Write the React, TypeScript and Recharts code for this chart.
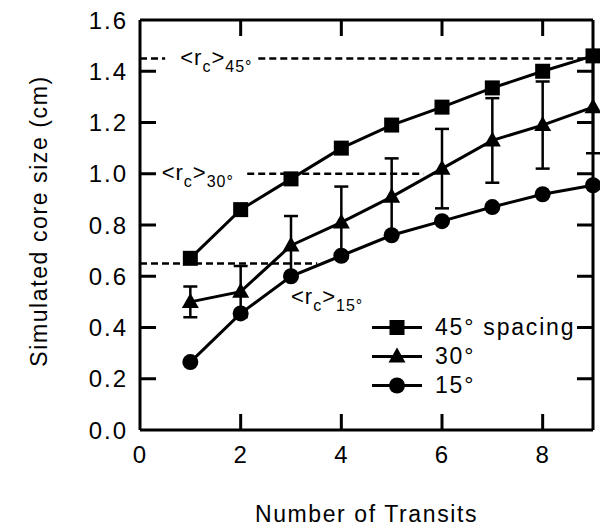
import {
  ErrorBar,
  Legend,
  Line,
  LineChart,
  ReferenceDot,
  ReferenceLine,
  XAxis,
  YAxis,
} from "recharts";

const transits = [1, 2, 3, 4, 5, 6, 7, 8, 9];
const spacing45 = [0.67, 0.86, 0.98, 1.1, 1.19, 1.26, 1.335, 1.4, 1.46];
const spacing30 = [0.5, 0.54, 0.72, 0.81, 0.91, 1.02, 1.13, 1.19, 1.26];
const error30 = [0.06, 0.1, 0.115, 0.14, 0.15, 0.155, 0.165, 0.17, 0.18];
const spacing15 = [0.265, 0.455, 0.6, 0.68, 0.76, 0.815, 0.87, 0.92, 0.955];

const X_MAX = 9;
const Y_MAX = 1.6;
const xTicks = [0, 2, 4, 6, 8];
const yTicks = [0, 0.2, 0.4, 0.6, 0.8, 1.0, 1.2, 1.4, 1.6];
// inward tick marks on all four sides of the frame
const xMarks = [2, 4, 6, 8];
const yMarks = [0.2, 0.4, 0.6, 0.8, 1.0, 1.2, 1.4];

// mean core size <rc> for each spacing
const meanSubs = ["45°", "30°", "15°"];
const meanValues = [1.45, 1.0, 0.65];
// dashed pieces (x ranges) and where the label text starts
const meanSegments = [
  [[0, 0.5], [2.35, 9]],
  [[2.13, 5.63]],
  [[0, 3.52]],
];
const meanLabelAt = [
  { x: 0.8, y: 1.424 },
  { x: 0.43, y: 0.976 },
  { x: 3.0, y: 0.492 },
];

const seriesList = [
  { key: "s45", name: "45° spacing", shape: "square" },
  { key: "s30", name: "30°", shape: "triangle" },
  { key: "s15", name: "15°", shape: "circle" },
];

const data = transits.map((t, i) => ({
  transit: t,
  s45: spacing45[i],
  s30: spacing30[i],
  err30: error30[i],
  s15: spacing15[i],
}));

const W = 600;
const H = 531;
const PLOT = { left: 140, top: 20, right: 593, bottom: 430 };
const TICK_LEN = 16;
const FONT = "'Liberation Sans', Arial, Helvetica, sans-serif";

const sx = (v: number) => PLOT.left + (v / X_MAX) * (PLOT.right - PLOT.left);
const sy = (v: number) => PLOT.bottom - (v / Y_MAX) * (PLOT.bottom - PLOT.top);

function Marker({ shape, cx, cy }: { shape: string; cx: number; cy: number }) {
  if (shape === "square")
    return <rect x={cx - 7.5} y={cy - 7.5} width={15} height={15} fill="#000" />;
  if (shape === "triangle")
    return (
      <polygon
        points={`${cx},${cy - 9} ${cx - 8.5},${cy + 6} ${cx + 8.5},${cy + 6}`}
        fill="#000"
      />
    );
  return <circle cx={cx} cy={cy} r={8} fill="#000" />;
}

function MeanLabel({ cx, cy, sub }: { cx: number; cy: number; sub: string }) {
  return (
    <text x={cx} y={cy} fontSize={22} fontFamily={FONT} letterSpacing={1} fill="#000">
      {"<r"}
      <tspan dy={7} fontSize={16}>c</tspan>
      <tspan dy={-7}>{">"}</tspan>
      <tspan dy={7} fontSize={16}>{sub}</tspan>
    </text>
  );
}

function BottomTick({ x, y, payload }: any) {
  return (
    <text x={x} y={y + 33} textAnchor="middle" fontSize={24} letterSpacing={1}
      fontFamily={FONT} fill="#000">
      {payload.value}
    </text>
  );
}

function LeftTick({ x, y, payload }: any) {
  return (
    <text x={x - 12} y={y} dy="0.36em" textAnchor="end" fontSize={24} letterSpacing={2}
      fontFamily={FONT} fill="#000">
      {payload.value.toFixed(1)}
    </text>
  );
}

// inward tick marks of the frame, laid over the chart
function FrameTicks() {
  return (
    <svg width={W} height={H} style={{ position: "absolute", left: 0, top: 0, pointerEvents: "none" }}>
      <g stroke="#000" strokeWidth={3}>
        {yMarks.map((v) => (
          <g key={`y${v}`}>
            <line x1={PLOT.left} x2={PLOT.left + TICK_LEN} y1={sy(v)} y2={sy(v)} />
            <line x1={PLOT.right - TICK_LEN} x2={PLOT.right} y1={sy(v)} y2={sy(v)} />
          </g>
        ))}
        {xMarks.map((v) => (
          <g key={`x${v}`}>
            <line x1={sx(v)} x2={sx(v)} y1={PLOT.bottom} y2={PLOT.bottom - TICK_LEN} />
            <line x1={sx(v)} x2={sx(v)} y1={PLOT.top} y2={PLOT.top + TICK_LEN} />
          </g>
        ))}
      </g>
    </svg>
  );
}

function LegendBox() {
  return (
    <div style={{ fontFamily: FONT }}>
      {seriesList.map((s) => (
        <div key={s.key} style={{ display: "flex", alignItems: "center", height: 29 }}>
          <svg width={52} height={29}>
            <line x1={0} x2={50} y1={14.5} y2={14.5} stroke="#000" strokeWidth={3} />
            <Marker shape={s.shape} cx={25} cy={14.5} />
          </svg>
          <span style={{ marginLeft: 11, fontSize: 23, letterSpacing: 1.8, lineHeight: "29px" }}>
            {s.name}
          </span>
        </div>
      ))}
    </div>
  );
}

const axisLine = { stroke: "#000", strokeWidth: 3 };

export default function App() {
  return (
    <div style={{ position: "absolute", left: 0, top: 0, width: W, height: H, background: "#fff" }}>
      <LineChart
        width={W}
        height={H}
        data={data}
        margin={{ top: PLOT.top - 1, right: W - PLOT.right - 1, bottom: 0, left: 0 }}
      >
        <XAxis
          dataKey="transit"
          type="number"
          domain={[0, X_MAX]}
          ticks={xTicks}
          height={H - PLOT.bottom}
          axisLine={axisLine}
          tickLine={false}
          tickSize={0}
          tickMargin={0}
          tick={BottomTick}
          label={({ viewBox }: any) => (
            <text
              x={viewBox.x + viewBox.width / 2}
              y={522}
              textAnchor="middle"
              fontSize={23}
              letterSpacing={1.6}
              fontFamily={FONT}
              fill="#000"
            >
              Number of Transits
            </text>
          )}
        />
        <XAxis
          xAxisId="top"
          orientation="top"
          type="number"
          domain={[0, X_MAX]}
          allowDataOverflow
          height={1}
          axisLine={axisLine}
          tickLine={false}
          tick={false}
        />
        <YAxis
          type="number"
          domain={[0, Y_MAX]}
          ticks={yTicks}
          width={PLOT.left}
          axisLine={axisLine}
          tickLine={false}
          tickSize={0}
          tickMargin={0}
          tick={LeftTick}
          label={({ viewBox }: any) => {
            const cy = viewBox.y + viewBox.height / 2 - 4;
            return (
              <text
                x={47}
                y={cy}
                transform={`rotate(-90, 47, ${cy})`}
                textAnchor="middle"
                fontSize={23}
                letterSpacing={1.6}
                fontFamily={FONT}
                fill="#000"
              >
                Simulated core size (cm)
              </text>
            );
          }}
        />
        <YAxis
          yAxisId="right"
          orientation="right"
          type="number"
          domain={[0, Y_MAX]}
          allowDataOverflow
          width={1}
          axisLine={axisLine}
          tickLine={false}
          tick={false}
        />

        {meanValues.map((v, i) =>
          meanSegments[i].map((seg, j) => (
            <ReferenceLine
              key={`m${i}-${j}`}
              segment={[
                { x: seg[0], y: v },
                { x: seg[1], y: v },
              ]}
              stroke="#000"
              strokeWidth={2.5}
              strokeDasharray="7 4"
            />
          ))
        )}
        {meanLabelAt.map((p, i) => (
          <ReferenceDot
            key={`ml${i}`}
            x={p.x}
            y={p.y}
            r={0}
            shape={(props: any) => <MeanLabel cx={props.cx} cy={props.cy} sub={meanSubs[i]} />}
          />
        ))}

        <Line
          dataKey="s30"
          name={seriesList[1].name}
          stroke="#000"
          strokeWidth={3}
          isAnimationActive={false}
          activeDot={false}
          dot={(p: any) => <Marker key={`t${p.index}`} shape="triangle" cx={p.cx} cy={p.cy} />}
        >
          <ErrorBar
            dataKey="err30"
            direction="y"
            width={7}
            stroke="#000"
            strokeWidth={2.5}
            isAnimationActive={false}
          />
        </Line>
        <Line
          dataKey="s45"
          name={seriesList[0].name}
          stroke="#000"
          strokeWidth={3}
          isAnimationActive={false}
          activeDot={false}
          dot={(p: any) => <Marker key={`s${p.index}`} shape="square" cx={p.cx} cy={p.cy} />}
        />
        <Line
          dataKey="s15"
          name={seriesList[2].name}
          stroke="#000"
          strokeWidth={3}
          isAnimationActive={false}
          activeDot={false}
          dot={(p: any) => <Marker key={`c${p.index}`} shape="circle" cx={p.cx} cy={p.cy} />}
        />

        <Legend
          layout="horizontal"
          verticalAlign="middle"
          align="center"
          content={<LegendBox />}
          wrapperStyle={{ position: "absolute", left: 372, top: 313, width: 220, height: 87 }}
        />
      </LineChart>
      <FrameTicks />
    </div>
  );
}
